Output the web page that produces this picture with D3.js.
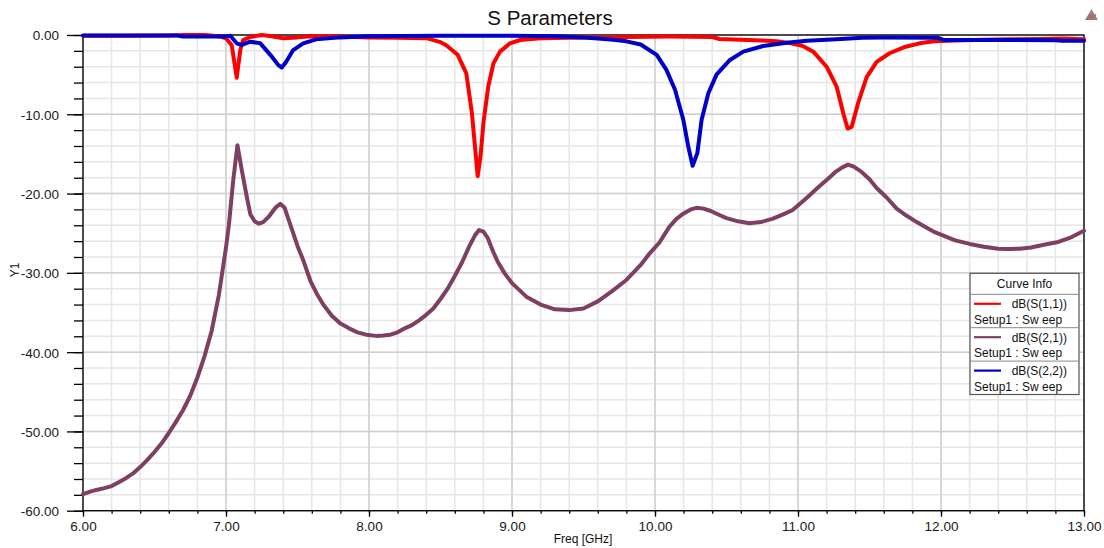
<!DOCTYPE html>
<html>
<head>
<meta charset="utf-8">
<script src="https://cdn.jsdelivr.net/npm/d3@7"></script>
<style>
  html, body { margin: 0; padding: 0; background: #ffffff; }
  svg { display: block; font-family: "Liberation Sans", Arial, sans-serif; }
</style>
</head>
<body>
<svg id="chart" width="1104" height="548"></svg>
<script>
// Frequency sweep results (GHz, dB)
const s11Freq = [6.0, 6.3, 6.6, 6.7, 6.85, 6.95, 7.0, 7.04, 7.075, 7.1, 7.12, 7.17, 7.25, 7.32, 7.4, 7.5, 7.6, 7.8, 8.0, 8.2, 8.4, 8.5, 8.54, 8.62, 8.68, 8.72, 8.76, 8.78, 8.80, 8.834, 8.87, 8.916, 8.986, 9.056, 9.2, 9.5, 9.8, 10.1, 10.4, 10.45, 10.6, 10.75, 10.85, 10.95, 11.03, 11.107, 11.2, 11.27, 11.317, 11.347, 11.375, 11.42, 11.48, 11.55, 11.64, 11.74, 11.85, 11.95, 12.1, 12.3, 12.5, 12.7, 12.85, 13.0];
const s11Db = [-0.1, -0.1, -0.05, 0.0, 0.0, -0.15, -0.42, -1.3, -5.4, -1.9, -0.63, -0.25, 0.0, -0.15, -0.4, -0.3, -0.15, -0.2, -0.3, -0.35, -0.4, -0.9, -1.3, -2.5, -4.8, -9.9, -17.8, -15.3, -11.1, -6.5, -3.6, -2.1, -1.05, -0.63, -0.4, -0.3, -0.25, -0.2, -0.25, -0.5, -0.6, -0.68, -0.8, -1.05, -1.35, -2.1, -4.0, -6.5, -9.9, -11.8, -11.6, -8.6, -5.3, -3.4, -2.3, -1.55, -1.05, -0.8, -0.7, -0.6, -0.55, -0.5, -0.45, -0.55];

const s21Freq = [6.0, 6.05, 6.1, 6.15, 6.2, 6.25, 6.3, 6.35, 6.4, 6.45, 6.5, 6.55, 6.6, 6.65, 6.7, 6.75, 6.8, 6.85, 6.9, 6.95, 7.0, 7.02, 7.05, 7.08, 7.11, 7.145, 7.17, 7.2, 7.23, 7.26, 7.3, 7.35, 7.38, 7.41, 7.44, 7.47, 7.5, 7.54, 7.59, 7.64, 7.68, 7.74, 7.8, 7.86, 7.92, 7.98, 8.05, 8.1, 8.15, 8.2, 8.25, 8.3, 8.35, 8.4, 8.45, 8.5, 8.55, 8.6, 8.65, 8.7, 8.74, 8.77, 8.8, 8.83, 8.87, 8.9, 8.95, 9.0, 9.1, 9.2, 9.3, 9.4, 9.5, 9.6, 9.7, 9.8, 9.9, 9.96, 10.03, 10.1, 10.15, 10.2, 10.25, 10.29, 10.34, 10.39, 10.45, 10.5, 10.58, 10.66, 10.74, 10.82, 10.9, 10.96, 11.02, 11.07, 11.13, 11.2, 11.26, 11.31, 11.35, 11.39, 11.44, 11.5, 11.55, 11.62, 11.69, 11.76, 11.83, 11.9, 11.96, 12.03, 12.1, 12.2, 12.3, 12.4, 12.47, 12.55, 12.63, 12.72, 12.82, 12.9, 13.0];
const s21Db = [-57.9, -57.6, -57.35, -57.15, -56.9, -56.4, -55.9, -55.3, -54.5, -53.6, -52.6, -51.5, -50.2, -48.8, -47.3, -45.5, -43.2, -40.5, -37.3, -32.8, -26.8, -24.0, -18.4, -13.9, -17.0, -20.4, -22.6, -23.5, -23.8, -23.6, -22.9, -21.7, -21.3, -21.8, -23.4, -25.0, -26.6, -28.4, -31.0, -32.8, -34.0, -35.4, -36.4, -37.0, -37.5, -37.8, -37.95, -37.9, -37.8, -37.5, -37.0, -36.6, -36.0, -35.3, -34.5, -33.3, -32.0, -30.4, -28.7, -26.7, -25.3, -24.6, -24.8, -25.6, -27.4, -28.6, -30.1, -31.3, -33.0, -34.0, -34.6, -34.7, -34.5, -33.6, -32.3, -30.9, -29.0, -27.6, -26.2, -24.2, -23.2, -22.5, -22.0, -21.8, -21.9, -22.2, -22.7, -23.1, -23.5, -23.75, -23.6, -23.2, -22.6, -22.1, -21.2, -20.4, -19.4, -18.3, -17.3, -16.7, -16.35, -16.6, -17.2, -18.2, -19.3, -20.5, -21.9, -22.8, -23.6, -24.3, -24.9, -25.4, -25.9, -26.35, -26.7, -26.95, -27.0, -26.95, -26.8, -26.45, -26.1, -25.6, -24.7];

const s22Freq = [6.0, 6.3, 6.65, 6.7, 7.0, 7.03, 7.075, 7.11, 7.17, 7.24, 7.31, 7.366, 7.39, 7.42, 7.47, 7.54, 7.63, 7.8, 8.0, 8.5, 9.0, 9.3, 9.48, 9.6, 9.71, 9.8, 9.9, 10.012, 10.08, 10.14, 10.198, 10.233, 10.263, 10.296, 10.326, 10.373, 10.43, 10.524, 10.617, 10.757, 10.92, 11.06, 11.27, 11.45, 11.6, 11.98, 12.02, 12.5, 12.8, 12.85, 13.0];
const s22Db = [-0.05, -0.05, -0.05, -0.2, -0.2, -0.1, -1.05, -1.26, -0.85, -1.05, -2.5, -3.8, -4.1, -3.4, -1.9, -1.05, -0.55, -0.3, -0.15, -0.1, -0.1, -0.15, -0.3, -0.45, -0.6, -0.8, -1.2, -2.5, -4.4, -6.9, -10.7, -14.1, -16.5, -14.9, -10.7, -7.35, -5.0, -3.15, -2.1, -1.39, -0.97, -0.72, -0.55, -0.35, -0.32, -0.35, -0.63, -0.63, -0.65, -0.72, -0.72];

const seriesNames = ["dB(S(1,1))", "dB(S(2,1))", "dB(S(2,2))"];
const seriesColors = ["#ff0000", "#7f3f63", "#0000c8"];
const sweepLabel = "Setup1 : Sw eep";

const xMajorTicks = [6, 7, 8, 9, 10, 11, 12, 13];
const yMajorTicks = [0, -10, -20, -30, -40, -50, -60];
const xMinorStep = 0.2;
const yMinorStep = 2;

const titleText = "S Parameters";
const xTitle = "Freq [GHz]";
const yTitle = "Y1";
const legendTitle = "Curve Info";

// ---- layout ----
const svg = d3.select("#chart");
const plot = { left: 83, right: 1084, top: 35, bottom: 510.7 };

const x = d3.scaleLinear().domain([6, 13]).range([plot.left, plot.right]);
const y = d3.scaleLinear().domain([-60, 0]).range([plot.bottom, plot.top]);

const xMinor = d3.range(6, 13.0001, xMinorStep).map(v => +v.toFixed(2));
const yMinor = d3.range(-60, 0.0001, yMinorStep);

// grid: minor then major
const grid = svg.append("g");
grid.selectAll("line.vmin").data(xMinor).join("line")
  .attr("x1", d => x(d)).attr("x2", d => x(d))
  .attr("y1", plot.top).attr("y2", plot.bottom)
  .attr("stroke", "#e6e6e6").attr("stroke-width", 1.5);
grid.selectAll("line.hmin").data(yMinor).join("line")
  .attr("x1", plot.left).attr("x2", plot.right)
  .attr("y1", d => y(d)).attr("y2", d => y(d))
  .attr("stroke", "#e6e6e6").attr("stroke-width", 1.5);
grid.selectAll("line.vmaj").data(xMajorTicks).join("line")
  .attr("x1", d => x(d)).attr("x2", d => x(d))
  .attr("y1", plot.top).attr("y2", plot.bottom)
  .attr("stroke", "#d0d0d0").attr("stroke-width", 1.5);
grid.selectAll("line.hmaj").data(yMajorTicks).join("line")
  .attr("x1", plot.left).attr("x2", plot.right)
  .attr("y1", d => y(d)).attr("y2", d => y(d))
  .attr("stroke", "#d0d0d0").attr("stroke-width", 1.5);

// frame
svg.append("rect")
  .attr("x", plot.left).attr("y", plot.top)
  .attr("width", plot.right - plot.left).attr("height", plot.bottom - plot.top)
  .attr("fill", "none").attr("stroke", "#000").attr("stroke-width", 1.3);

const fmt = d => d.toFixed(2);

// y axis: minor ticks, then labelled major ticks
svg.append("g").attr("transform", `translate(${plot.left},0)`)
  .call(d3.axisLeft(y).tickValues(yMinor).tickSize(9).tickFormat(""))
  .call(g => g.select(".domain").remove())
  .call(g => g.selectAll("line").attr("stroke", "#000").attr("stroke-width", 1.3));
svg.append("g").attr("transform", `translate(${plot.left},0)`)
  .call(d3.axisLeft(y).tickValues(yMajorTicks).tickSize(16).tickPadding(8).tickFormat(fmt))
  .call(g => g.select(".domain").remove())
  .call(g => g.selectAll("line").attr("stroke", "#000").attr("stroke-width", 1.3))
  .call(g => g.selectAll("text").attr("fill", "#1a1a1a")
    .style("font-size", "13.5px").attr("dy", "0.36em"));

// x axis
svg.append("g").attr("transform", `translate(0,${plot.bottom})`)
  .call(d3.axisBottom(x).tickValues(xMinor).tickSize(3).tickFormat(""))
  .call(g => g.select(".domain").remove())
  .call(g => g.selectAll("line").attr("stroke", "#000").attr("stroke-width", 1.3));
svg.append("g").attr("transform", `translate(0,${plot.bottom})`)
  .call(d3.axisBottom(x).tickValues(xMajorTicks).tickSize(6).tickFormat(fmt))
  .call(g => g.select(".domain").remove())
  .call(g => g.selectAll("line").attr("stroke", "#000").attr("stroke-width", 1.3))
  .call(g => g.selectAll("text").attr("fill", "#1a1a1a")
    .style("font-size", "13.5px").attr("y", 20.5).attr("dy", "0"));

// titles
svg.append("text").attr("x", 550).attr("y", 25)
  .attr("text-anchor", "middle").style("font-size", "20.5px").attr("fill", "#111")
  .text(titleText);
svg.append("text").attr("x", 583).attr("y", 543)
  .attr("text-anchor", "middle").style("font-size", "12px").attr("fill", "#111")
  .text(xTitle);
svg.append("text").attr("transform", "translate(19,270) rotate(-90)")
  .attr("text-anchor", "middle").style("font-size", "12px").attr("fill", "#111")
  .text(yTitle);

// corner marker
const icon = svg.append("g");
icon.append("path").attr("d", "M1085,20 L1091.5,9 L1098,20 Z").attr("fill", "#8a8a8a");
icon.selectAll("line").data([0, 1, 2]).join("line")
  .attr("x1", d => 1087 + d * 3).attr("y1", 20)
  .attr("x2", d => 1090 + d * 3).attr("y2", 14)
  .attr("stroke", "#e04040").attr("stroke-width", 1);

// curves
const line = d3.line().x(d => x(d[0])).y(d => y(d[1]));
const curves = [
  d3.zip(s11Freq, s11Db),
  d3.zip(s21Freq, s21Db),
  d3.zip(s22Freq, s22Db)
];
svg.append("g").selectAll("path").data(curves).join("path")
  .attr("d", line)
  .attr("fill", "none")
  .attr("stroke", (d, i) => seriesColors[i])
  .attr("stroke-width", 4)
  .attr("stroke-linejoin", "round")
  .attr("stroke-linecap", "round");

// legend
const lg = svg.append("g").attr("transform", "translate(970,273.3)");
const lgW = 109, headH = 21, rowH = 33.4;
lg.append("rect").attr("width", lgW).attr("height", headH + rowH * 3)
  .attr("fill", "#fff").attr("stroke", "#555").attr("stroke-width", 1.2);
lg.append("text").attr("x", lgW / 2).attr("y", 15)
  .attr("text-anchor", "middle").style("font-size", "12px").attr("fill", "#111")
  .text(legendTitle);
const rows = lg.selectAll("g.row").data(seriesNames).join("g")
  .attr("transform", (d, i) => `translate(0,${headH + i * rowH})`);
rows.append("line").attr("x1", 0).attr("x2", lgW).attr("y1", 0).attr("y2", 0)
  .attr("stroke", "#888").attr("stroke-width", 1);
rows.append("line").attr("x1", 4).attr("x2", 31).attr("y1", 9.5).attr("y2", 9.5)
  .attr("stroke", (d, i) => seriesColors[i]).attr("stroke-width", 2.2);
rows.append("text").attr("x", 97).attr("y", 14)
  .attr("text-anchor", "end").style("font-size", "12px").attr("fill", "#111")
  .text(d => d);
rows.append("text").attr("x", 4).attr("y", 29.5)
  .style("font-size", "12px").attr("fill", "#111")
  .text(sweepLabel);
</script>
</body>
</html>
